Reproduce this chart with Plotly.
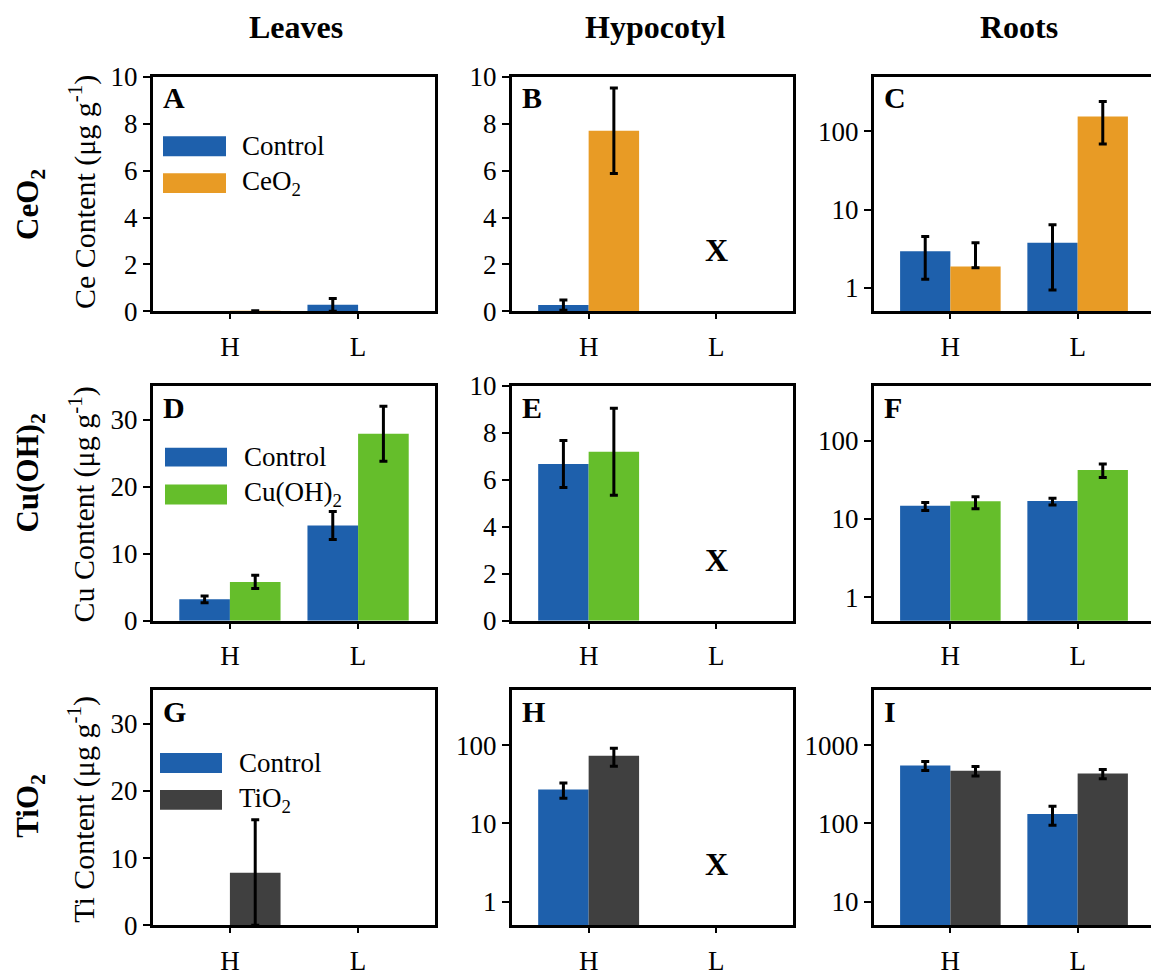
import plotly.graph_objects as go
import math

W, H = 1151, 976
FONT = "Times New Roman, Liberation Serif, serif"

categories = ["H", "L"]
control_color = "#1E60AC"
treat_colors = ["#E89B25", "#65BE2B", "#404040"]
treat_names = ["CeO<sub>2</sub>", "Cu(OH)<sub>2</sub>", "TiO<sub>2</sub>"]
row_labels = ["CeO<sub>2</sub>", "Cu(OH)<sub>2</sub>", "TiO<sub>2</sub>"]
y_titles = ["Ce Content (μg g<sup>-1</sup>)", "Cu Content (μg g<sup>-1</sup>)", "Ti Content (μg g<sup>-1</sup>)"]
col_headers = ["Leaves", "Hypocotyl", "Roots"]
panel_letters = ["A", "B", "C", "D", "E", "F", "G", "H", "I"]

# Panel data: control values / errors (up, down), treatment values / errors (up, down)
# Row 1: Ce
A_ctrl = [None, 0.28];  A_ctrl_up = [0, 0.27];  A_ctrl_dn = [0, 0.27]
A_trt = [0.03, None];   A_trt_up = [0, 0];      A_trt_dn = [0, 0]
B_ctrl = [0.27, None];  B_ctrl_up = [0.22, 0];  B_ctrl_dn = [0.22, 0]
B_trt = [7.7, None];    B_trt_up = [1.82, 0];   B_trt_dn = [1.82, 0]
C_ctrl = [2.94, 3.76];  C_ctrl_up = [1.61, 2.64]; C_ctrl_dn = [1.65, 2.82]
C_trt = [1.87, 155];    C_trt_up = [1.89, 85];    C_trt_dn = [0.06, 86]
# Row 2: Cu
D_ctrl = [3.2, 14.2];   D_ctrl_up = [0.5, 2.1];  D_ctrl_dn = [0.5, 2.1]
D_trt = [5.8, 27.9];    D_trt_up = [1.0, 4.1];   D_trt_dn = [1.0, 4.1]
E_ctrl = [6.68, None];  E_ctrl_up = [1.0, 0];    E_ctrl_dn = [1.0, 0]
E_trt = [7.2, None];    E_trt_up = [1.85, 0];    E_trt_dn = [1.85, 0]
F_ctrl = [14.8, 17.0];  F_ctrl_up = [1.4, 1.4];  F_ctrl_dn = [2.0, 1.9]
F_trt = [16.8, 42.4];   F_trt_up = [2.5, 8.2];   F_trt_dn = [3.3, 8.6]
# Row 3: Ti
G_ctrl = [None, None];  G_ctrl_up = [0, 0];      G_ctrl_dn = [0, 0]
G_trt = [7.8, None];    G_trt_up = [7.9, 0];     G_trt_dn = [7.8, 0]
H_ctrl = [27, None];    H_ctrl_up = [5.8, 0];    H_ctrl_dn = [6.0, 0]
H_trt = [73, None];     H_trt_up = [18.3, 0];    H_trt_dn = [19.5, 0]
I_ctrl = [548, 131.6];  I_ctrl_up = [68, 34];    I_ctrl_dn = [74, 37]
I_trt = [469, 435];     I_trt_up = [65, 54];     I_trt_dn = [67, 63]

panels = [
    (A_ctrl, A_ctrl_up, A_ctrl_dn, A_trt, A_trt_up, A_trt_dn),
    (B_ctrl, B_ctrl_up, B_ctrl_dn, B_trt, B_trt_up, B_trt_dn),
    (C_ctrl, C_ctrl_up, C_ctrl_dn, C_trt, C_trt_up, C_trt_dn),
    (D_ctrl, D_ctrl_up, D_ctrl_dn, D_trt, D_trt_up, D_trt_dn),
    (E_ctrl, E_ctrl_up, E_ctrl_dn, E_trt, E_trt_up, E_trt_dn),
    (F_ctrl, F_ctrl_up, F_ctrl_dn, F_trt, F_trt_up, F_trt_dn),
    (G_ctrl, G_ctrl_up, G_ctrl_dn, G_trt, G_trt_up, G_trt_dn),
    (H_ctrl, H_ctrl_up, H_ctrl_dn, H_trt, H_trt_up, H_trt_dn),
    (I_ctrl, I_ctrl_up, I_ctrl_dn, I_trt, I_trt_up, I_trt_dn),
]

# axis settings per panel: (type, range, tickvals)
lin10 = ("linear", [0, 10], [0, 2, 4, 6, 8, 10])
lin35 = ("linear", [0, 35], [0, 10, 20, 30])
log1 = ("log", [math.log10(0.5), math.log10(500)], [1, 10, 100])
log10_ = ("log", [math.log10(5), math.log10(5000)], [10, 100, 1000])
y_specs = [lin10, lin10, log1, lin35, lin10, log1, lin35, log1, log10_]
missing_L = [False, True, False, False, True, False, False, True, False]

# layout geometry in (photographed) pixels
col_px = [(153, 435), (512, 793), (874, 1151)]
row_px = [(77, 313), (388, 624), (694, 930)]
PAGE_TOP, PAGE_SPAN = 15.0, 945.0   # where the figure's paper lands vertically in the photo

def px_x(p):
    return p / W

def px_y(p):
    return 1 - (p - PAGE_TOP) / PAGE_SPAN

fig = go.Figure()
for i in range(9):
    r, c = divmod(i, 3)
    ax = "" if i == 0 else str(i + 1)
    xref, yref = "x" + ax, "y" + ax
    ctrl, cu, cd, trt, tu, td = panels[i]
    err_c = dict(type="data", array=cu, arrayminus=cd, color="black", thickness=3, width=4, visible=True)
    err_t = dict(type="data", array=tu, arrayminus=td, color="black", thickness=3, width=4, visible=True)
    fig.add_trace(go.Bar(x=categories, y=ctrl, marker_color=control_color, marker_line_width=0,
                         error_y=err_c, name="Control", showlegend=False, xaxis=xref, yaxis=yref))
    fig.add_trace(go.Bar(x=categories, y=trt, marker_color=treat_colors[r], marker_line_width=0,
                         error_y=err_t, name=treat_names[r], showlegend=False, xaxis=xref, yaxis=yref))

    x0, x1 = col_px[c]
    y0, y1 = row_px[r]
    xr_hi = -0.6 + 2.2 * (x1 - x0) / 280.0 if c == 2 else 1.6
    xa = dict(domain=[px_x(x0), px_x(x1)], anchor=yref, type="category", range=[-0.6, xr_hi],
              showline=True, linecolor="black", linewidth=3, mirror=True,
              ticks="outside", ticklen=5, tickwidth=2, tickcolor="black", ticklabelstandoff=4,
              tickfont=dict(family=FONT, size=27, color="black"), showgrid=False, zeroline=False,
              fixedrange=True)
    ytype, yrange, tv = y_specs[i]
    ya = dict(domain=[px_y(y1), px_y(y0)], anchor=xref, type=ytype, range=yrange,
              tickvals=tv, ticktext=[str(v) for v in tv],
              showline=True, linecolor="black", linewidth=3, mirror=(c != 2),
              ticks="outside", ticklen=7, tickwidth=2, tickcolor="black",
              tickfont=dict(family=FONT, size=27, color="black"), showgrid=False, zeroline=False,
              fixedrange=True)
    fig.layout["xaxis" + ax] = xa
    fig.layout["yaxis" + ax] = ya

annotations = []
shapes = []
# panel letters and X markers
for i in range(9):
    ax = "" if i == 0 else str(i + 1)
    annotations.append(dict(text="<b>%s</b>" % panel_letters[i], xref="x%s domain" % ax, yref="y%s domain" % ax,
                            x=0.03, y=0.91, xanchor="left", yanchor="middle", showarrow=False,
                            font=dict(family=FONT, size=30, color="black")))
    if missing_L[i]:
        annotations.append(dict(text="<b>X</b>", xref="x" + ax, yref="y%s domain" % ax,
                                x="L", y=0.26, xanchor="center", yanchor="middle", showarrow=False,
                                font=dict(family=FONT, size=32, color="black")))

# column headers
for hdr, cx in zip(col_headers, [296, 655, 1019]):
    annotations.append(dict(text="<b>%s</b>" % hdr, xref="paper", yref="paper", x=px_x(cx), y=px_y(27),
                            xanchor="center", yanchor="middle", showarrow=False,
                            font=dict(family=FONT, size=32, color="black")))

# row labels and y titles
for r, (lab, cy, ty) in enumerate(zip(row_labels, [205, 475, 810], [193, 507, 814])):
    annotations.append(dict(text="<b>%s</b>" % lab, xref="paper", yref="paper", x=px_x(30), y=px_y(cy),
                            xanchor="center", yanchor="middle", textangle=-90, showarrow=False,
                            font=dict(family=FONT, size=31, color="black")))
    annotations.append(dict(text=y_titles[r], xref="paper", yref="paper", x=px_x(82), y=px_y(ty),
                            xanchor="center", yanchor="middle", textangle=-90, showarrow=False,
                            font=dict(family=FONT, size=30, color="black")))

# legends (drawn manually in leaf panels)
leg_specs = [  # (swatch x0, x1, ctrl y0, y1, trt y0, y1, text x)
    (163, 226, 137, 157, 174, 194, 240),
    (165, 227, 450, 469, 487, 507, 242),
    (160, 222, 757, 777, 794, 814, 237),
]
for r, (sx0, sx1, cy0, cy1, ty0, ty1, tx) in enumerate(leg_specs):
    for (yy0, yy1, col, name) in [(cy0, cy1, control_color, "Control"), (ty0, ty1, treat_colors[r], treat_names[r])]:
        shapes.append(dict(type="rect", xref="paper", yref="paper", x0=px_x(sx0), x1=px_x(sx1),
                           y0=px_y(yy1), y1=px_y(yy0), fillcolor=col, line_width=0, layer="above"))
        annotations.append(dict(text=name, xref="paper", yref="paper", x=px_x(tx), y=px_y((yy0 + yy1) / 2),
                                xanchor="left", yanchor="middle", showarrow=False,
                                font=dict(family=FONT, size=27, color="black")))

fig.update_layout(
    width=W, height=H, margin=dict(l=0, r=0, t=0, b=0),
    paper_bgcolor="white", plot_bgcolor="white",
    barmode="group", bargap=0.21, bargroupgap=0,
    showlegend=False, annotations=annotations, shapes=shapes,
    font=dict(family=FONT, color="black"),
)

fig.write_html("out.html", config={"displayModeBar": False},
               post_script="document.body.style.margin='0';document.body.style.overflow='hidden';")
